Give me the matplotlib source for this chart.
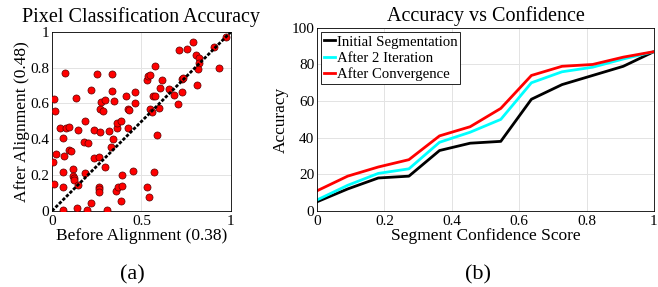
import numpy as np
import matplotlib
matplotlib.use("Agg")
import matplotlib.pyplot as plt

plt.rcParams["font.family"] = ["Liberation Serif", "DejaVu Serif"]

# (a) per-image accuracy before / after alignment
before = [0.004, 0.013, 0.015, 0.013, 0.020, 0.071, 0.045, 0.080, 0.093, 0.061,
          0.067, 0.061, 0.061, 0.060, 0.097, 0.108, 0.117, 0.115, 0.123, 0.125,
          0.136, 0.143, 0.143, 0.139, 0.186, 0.177, 0.203, 0.186, 0.195, 0.217,
          0.219, 0.232, 0.232, 0.249, 0.262, 0.262, 0.260, 0.262, 0.270, 0.283,
          0.273, 0.271, 0.299, 0.296, 0.309, 0.316, 0.327, 0.335, 0.338, 0.346,
          0.342, 0.366, 0.364, 0.383, 0.355, 0.370, 0.387, 0.394, 0.392, 0.411,
          0.426, 0.433, 0.422, 0.463, 0.463, 0.452, 0.533, 0.535, 0.550, 0.576,
          0.548, 0.558, 0.567, 0.574, 0.586, 0.569, 0.530, 0.541, 0.597, 0.604,
          0.612, 0.654, 0.682, 0.704, 0.712, 0.753, 0.790, 0.727, 0.734, 0.727,
          0.803, 0.822, 0.823, 0.818, 0.812, 0.907, 0.933, 0.974]
after = [0.272, 0.627, 0.556, 0.151, 0.317, 0.772, 0.463, 0.461, 0.466, 0.405,
         0.308, 0.218, 0.132, 0.006, 0.338, 0.332, 0.235, 0.196, 0.185, 0.172,
         0.629, 0.453, 0.147, 0.017, 0.502, 0.384, 0.382, 0.213, 0.006, 0.043,
         0.673, 0.450, 0.293, 0.763, 0.300, 0.134, 0.121, 0.106, 0.569, 0.560,
         0.606, 0.440, 0.621, 0.246, 0.007, 0.446, 0.356, 0.765, 0.668, 0.616,
         0.401, 0.461, 0.489, 0.504, 0.114, 0.131, 0.058, 0.140, 0.201, 0.640,
         0.571, 0.565, 0.463, 0.666, 0.601, 0.224, 0.733, 0.756, 0.757, 0.808,
         0.569, 0.554, 0.644, 0.644, 0.422, 0.220, 0.136, 0.078, 0.573, 0.687,
         0.731, 0.683, 0.647, 0.595, 0.901, 0.907, 0.944, 0.737, 0.741, 0.664,
         0.868, 0.854, 0.828, 0.793, 0.701, 0.916, 0.797, 0.974]

# (b) accuracy vs confidence
conf = [0, 1/11, 2/11, 3/11, 4/11, 5/11, 6/11, 7/11, 8/11, 9/11, 10/11, 1]
initial = [5, 12, 18, 19, 33, 37, 38, 61, 69, 74, 79, 87]
iter2 = [6, 14, 20.5, 23, 37.5, 43, 50, 70, 76, 78.5, 83, 87]
converged = [11, 19, 24, 28, 41, 46, 56, 74, 79, 80, 84, 87]

fig = plt.figure(figsize=(6.58, 2.87), dpi=100)
ax1 = fig.add_axes([0.079, 0.265, 0.272, 0.624])
ax2 = fig.add_axes([0.4818, 0.265, 0.512, 0.638])

for ax in (ax1, ax2):
    ax.grid(True, color="#e3e3e3", lw=0.7)
    ax.set_axisbelow(True)
    ax.tick_params(length=0, labelsize=11)
    ax.tick_params(axis="x", pad=3)
    ax.tick_params(axis="y", pad=2)
    for s in ax.spines.values():
        s.set_linewidth(0.6)

ax1.scatter(before, after, s=26, c="#ff0000", edgecolors="#5a0000", linewidths=0.5, zorder=3)
ax1.plot([0, 1], [0, 1], color="black", lw=2, ls=(0, (1.2, 0.6)), zorder=4)
ax1.set_xlim(0, 1)
ax1.set_ylim(0, 1)
ax1.set_xticks([0, 0.5, 1])
ax1.set_xticklabels(["0", "0.5", "1"])
ax1.set_yticks([0, 0.2, 0.4, 0.6, 0.8, 1])
ax1.set_yticklabels(["0", "0.2", "0.4", "0.6", "0.8", "1"])
ax1.set_title("Pixel Classification Accuracy", fontsize=14.5, pad=7)
ax1.set_xlabel("Before Alignment (0.38)", fontsize=12.5, labelpad=0)
ax1.set_ylabel("After Alignment (0.48)", fontsize=12.5, labelpad=0)

ax2.plot(conf, initial, color="black", lw=2, label="Initial Segmentation")
ax2.plot(conf, iter2, color="#00ffff", lw=2, label="After 2 Iteration")
ax2.plot(conf, converged, color="#ff0000", lw=2, label="After Convergence")
ax2.set_xlim(0, 1)
ax2.set_ylim(0, 100)
ax2.set_xticks([0, 0.2, 0.4, 0.6, 0.8, 1])
ax2.set_xticklabels(["0", "0.2", "0.4", "0.6", "0.8", "1"])
ax2.set_yticks([0, 20, 40, 60, 80, 100])
ax2.set_title("Accuracy vs Confidence", fontsize=14.5, pad=5)
ax2.set_xlabel("Segment Confidence Score", fontsize=12.5, labelpad=0)
ax2.set_ylabel("Accuracy", fontsize=12.5, labelpad=2)
leg = ax2.legend(loc="upper left", fontsize=10.6, handlelength=0.7, handletextpad=0.15,
                 labelspacing=0.2, borderpad=0.2, borderaxespad=0.3, fancybox=False,
                 framealpha=1)
leg.get_frame().set_edgecolor("black")
leg.get_frame().set_linewidth(0.6)

fig.text(0.2006, 0.042, "(a)", fontsize=16, ha="center", va="center")
fig.text(0.7264, 0.042, "(b)", fontsize=16, ha="center", va="center")

fig.savefig("out.png", dpi=100)
